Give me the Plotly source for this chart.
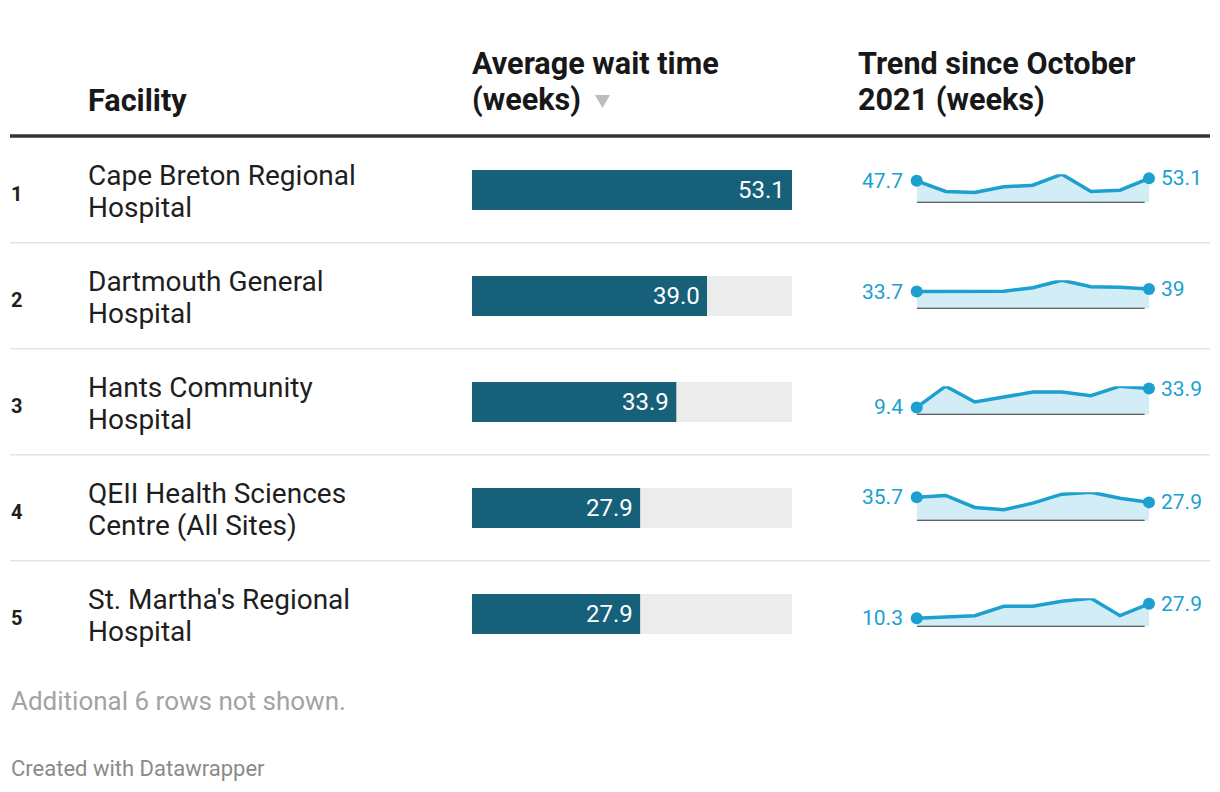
import textwrap
import plotly.graph_objects as go

# ---------------- data ----------------
rank = [1, 2, 3, 4, 5]
facility = [
    "Cape Breton Regional Hospital",
    "Dartmouth General Hospital",
    "Hants Community Hospital",
    "QEII Health Sciences Centre (All Sites)",
    "St. Martha's Regional Hospital",
]
avg_wait = [53.1, 39.0, 33.9, 27.9, 27.9]

period = [0, 1, 2, 3, 4, 5, 6, 7, 8]
trend_cape_breton = [47.7, 24.5, 22.3, 34.6, 38.3, 62.2, 24.5, 27.4, 53.1]
trend_dartmouth = [33.7, 34.0, 34.0, 34.4, 41.2, 56.2, 43.2, 42.5, 39.0]
trend_hants = [9.4, 36.9, 16.4, 22.7, 29.3, 29.3, 24.5, 36.9, 33.9]
trend_qeii = [35.7, 38.4, 20.2, 16.7, 26.8, 40.4, 43.4, 34.3, 27.9]
trend_st_martha = [10.3, 11.8, 13.5, 25.0, 25.0, 31.1, 34.8, 13.5, 27.9]
trends = [trend_cape_breton, trend_dartmouth, trend_hants, trend_qeii, trend_st_martha]

header_facility = "Facility"
header_wait = ["Average wait time", "(weeks)"]
header_trend = ["Trend since October", "2021 (weeks)"]
footnote = "Additional 6 rows not shown."
credit = "Created with Datawrapper"

# ---------------- styling / layout ----------------
W, H = 1220, 792
FONT = "Roboto"
BAR_DARK = "#16607a"
BAR_BG = "#ececec"
SPARK = "#1ba0cf"
SPARK_FILL = "#d3edf6"
TEXT = "#1e1e1e"

ROW0 = 190.0      # centre of first row (px from top)
ROW_H = 106.0
BAR_X0, BAR_X1 = 472.0, 792.0
BAR_H = 40.0
SP_X0, SP_X1 = 916.7, 1149.0
SP_H = 28.5


def px(x):
    return x / W


def py(y):
    return 1 - y / H


fig = go.Figure()

# --- bars ---
vmax = max(avg_wait)
fig.add_trace(go.Bar(x=[vmax] * len(facility), y=facility, orientation="h",
                     marker=dict(color=BAR_BG, line=dict(width=0)),
                     width=BAR_H / ROW_H, hoverinfo="skip", xaxis="x", yaxis="y"))
fig.add_trace(go.Bar(x=avg_wait, y=facility, orientation="h",
                     marker=dict(color=BAR_DARK, line=dict(width=0)),
                     width=BAR_H / ROW_H, xaxis="x", yaxis="y"))

annotations = []
shapes = []

for f, v in zip(facility, avg_wait):
    annotations.append(dict(x=v, y=f, xref="x", yref="y", text=f"{v:.1f}",
                            xanchor="right", yanchor="middle", xshift=-5, showarrow=False,
                            font=dict(family=FONT, size=24, color="white")))

layout_axes = {}
layout_axes["xaxis"] = dict(domain=[px(BAR_X0), px(BAR_X1)], range=[0, vmax], visible=False,
                            fixedrange=True)
layout_axes["yaxis"] = dict(domain=[py(ROW0 + 4.5 * ROW_H), py(ROW0 - 0.5 * ROW_H)],
                            type="category", categoryorder="array", categoryarray=facility,
                            range=[len(facility) - 0.5, -0.5], visible=False, fixedrange=True)

# --- sparklines ---
for i, vals in enumerate(trends):
    k = i + 2
    base = ROW0 + 12.7 + i * ROW_H
    layout_axes[f"xaxis{k}"] = dict(domain=[px(SP_X0), px(SP_X1)], range=[period[0], period[-1]],
                                    visible=False, fixedrange=True, anchor=f"y{k}")
    layout_axes[f"yaxis{k}"] = dict(domain=[py(base), py(base - SP_H)], range=[0, max(vals)],
                                    visible=False, fixedrange=True, anchor=f"x{k}")
    fig.add_trace(go.Scatter(x=period, y=vals, mode="lines", fill="tozeroy",
                             fillcolor=SPARK_FILL, line=dict(color=SPARK, width=3.5),
                             cliponaxis=False, xaxis=f"x{k}", yaxis=f"y{k}", hoverinfo="skip"))
    fig.add_trace(go.Scatter(x=[period[0], period[-1]], y=[vals[0], vals[-1]], mode="markers",
                             marker=dict(color=SPARK, size=12), cliponaxis=False,
                             xaxis=f"x{k}", yaxis=f"y{k}"))
    shapes.append(dict(type="line", xref=f"x{k}", yref=f"y{k}", x0=period[0], x1=period[-1] - 0.15,
                       y0=0, y1=0, line=dict(color="#333333", width=2), layer="above"))
    annotations.append(dict(x=period[0], y=vals[0], xref=f"x{k}", yref=f"y{k}", text=f"{vals[0]:g}",
                            xanchor="right", yanchor="middle", xshift=-12, showarrow=False,
                            font=dict(family=FONT, size=21, color=SPARK)))
    annotations.append(dict(x=period[-1], y=vals[-1], xref=f"x{k}", yref=f"y{k}", text=f"{vals[-1]:g}",
                            xanchor="left", yanchor="middle", xshift=10, showarrow=False,
                            font=dict(family=FONT, size=21, color=SPARK)))

# --- row texts ---
for i, (r, f) in enumerate(zip(rank, facility)):
    c = ROW0 + i * ROW_H
    annotations.append(dict(x=px(9), y=py(c + 4), xref="paper", yref="paper", text=f"<b>{r}</b>",
                            xanchor="left", yanchor="middle", showarrow=False,
                            font=dict(family=FONT, size=20, color=TEXT)))
    lines = textwrap.wrap(f, 21)
    for j, ln in enumerate(lines):
        annotations.append(dict(x=px(86), y=py(c - 15 + 32 * j), xref="paper", yref="paper", text=ln,
                                xanchor="left", yanchor="middle", showarrow=False,
                                font=dict(family=FONT, size=28, color=TEXT)))

# row separators
for i in range(len(facility) - 1):
    y = ROW0 + 52.7 + i * ROW_H
    shapes.append(dict(type="line", xref="paper", yref="paper", x0=px(10), x1=px(1210),
                       y0=py(y), y1=py(y), line=dict(color="#e4e4e4", width=1.5)))

# header
HDR1, HDR2 = 64, 100
HSIZE = 30.6
annotations.append(dict(x=px(86), y=py(HDR2), xref="paper", yref="paper", text=f"<b>{header_facility}</b>",
                        xanchor="left", yanchor="middle", showarrow=False,
                        font=dict(family=FONT, size=HSIZE, color="#181818")))
for j, ln in enumerate(header_wait):
    annotations.append(dict(x=px(470), y=py([HDR1, HDR2][j]), xref="paper", yref="paper",
                            text=f"<b>{ln}</b>", xanchor="left", yanchor="middle", showarrow=False,
                            font=dict(family=FONT, size=HSIZE, color="#181818")))
for j, ln in enumerate(header_trend):
    annotations.append(dict(x=px(856), y=py([HDR1, HDR2][j]), xref="paper", yref="paper",
                            text=f"<b>{ln}</b>", xanchor="left", yanchor="middle", showarrow=False,
                            font=dict(family=FONT, size=HSIZE, color="#181818")))
# sort triangle
tri = f"M {px(595)},{py(95)} L {px(610)},{py(95)} L {px(602.5)},{py(108)} Z"
shapes.append(dict(type="path", xref="paper", yref="paper", path=tri,
                   fillcolor="#bdbdbd", line=dict(width=0)))
# header rule
shapes.append(dict(type="line", xref="paper", yref="paper", x0=px(10), x1=px(1210),
                   y0=py(136), y1=py(136), line=dict(color="#333333", width=3.4)))

# footer
annotations.append(dict(x=px(9), y=py(701), xref="paper", yref="paper", text=footnote,
                        xanchor="left", yanchor="middle", showarrow=False,
                        font=dict(family=FONT, size=26, color="#a3a3a3")))
annotations.append(dict(x=px(9), y=py(768), xref="paper", yref="paper", text=credit,
                        xanchor="left", yanchor="middle", showarrow=False,
                        font=dict(family=FONT, size=22, color="#8a8a8a")))

fig.update_layout(
    width=W, height=H, autosize=False,
    margin=dict(l=0, r=0, t=0, b=0, pad=0),
    paper_bgcolor="white", plot_bgcolor="white",
    barmode="overlay", showlegend=False,
    annotations=annotations, shapes=shapes,
    font=dict(family=FONT),
    **layout_axes,
)

fig.write_html("out.html", config={"displayModeBar": False},
               post_script="document.body.style.margin='0';document.body.style.overflow='hidden';")
